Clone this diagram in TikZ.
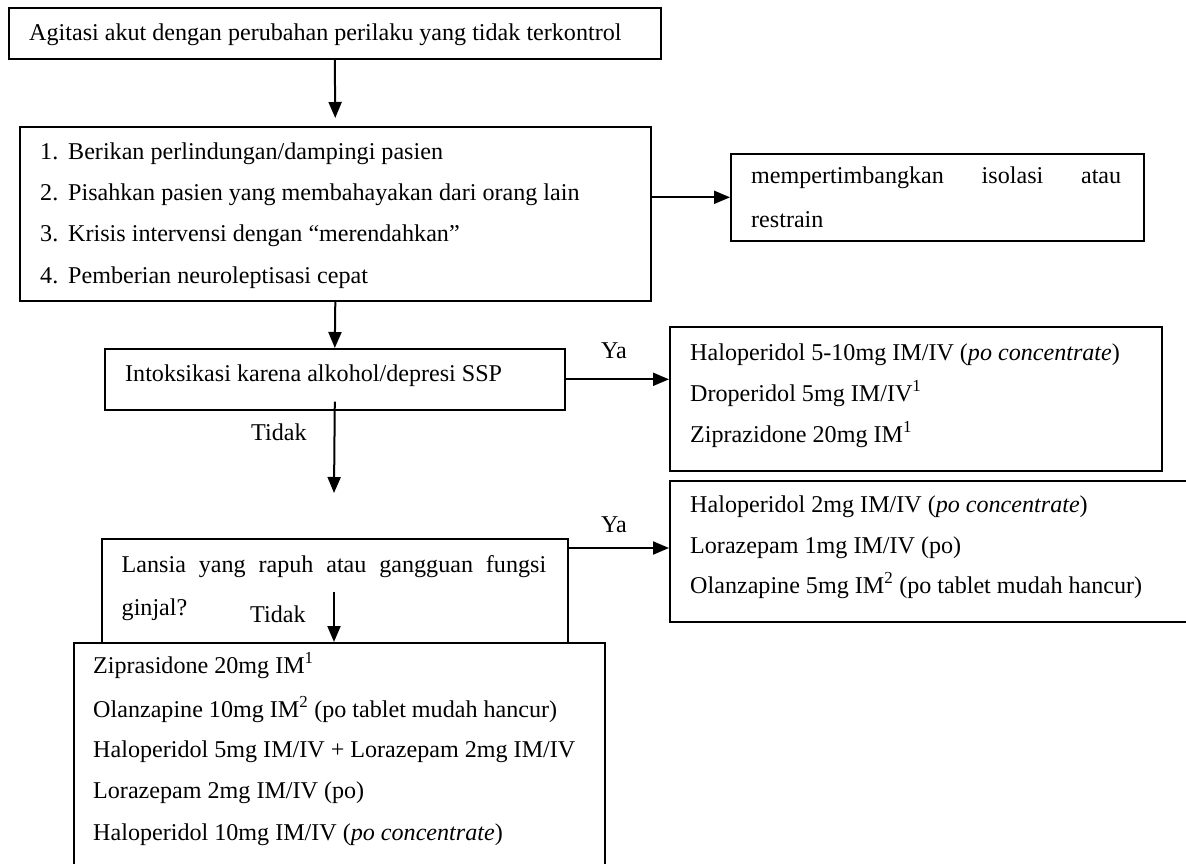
\documentclass[tikz,border=0pt]{standalone}
\usepackage{fontspec}
\setmainfont{Liberation Serif}
\usetikzlibrary{arrows.meta,calc}
\newcommand\figfont{\fontsize{24.1}{28}\selectfont}
\begin{document}
\begin{tikzpicture}[x=1pt,y=-1pt,
  box/.style={draw, line width=1.6pt, inner sep=0pt, anchor=north west},
  txt/.style={anchor=base west, inner sep=0pt, font=\figfont},
  lbl/.style={anchor=base, inner sep=0pt, font=\figfont},
  arr/.style={line width=2pt, -{Triangle[length=16pt,width=13pt]}},
]
\useasboundingbox (0,0) rectangle (1186,863);
\fill[white] (0,0) rectangle (1186,863);
\clip (0,0) rectangle (1186,863);

% boxes
\node[box, minimum width=652pt, minimum height=51pt] (b1) at (8,7) {};
\node[box, minimum width=631pt, minimum height=174pt] (b2) at (19,126) {};
\node[box, minimum width=413pt, minimum height=87pt] (b3) at (730,153) {};
\node[box, minimum width=460pt, minimum height=61pt] (b4) at (104,348) {};
\node[box, minimum width=492pt, minimum height=144pt] (b5) at (669,326) {};
\node[box, minimum width=466pt, minimum height=104pt] (b6) at (101,538) {};
\node[box, minimum width=531pt, minimum height=141pt] (b7) at (669,480) {};
\node[box, minimum width=531pt, minimum height=240pt] (b8) at (73,642) {};

% texts
\node[txt] (t1) at (29,40) {Agitasi akut dengan perubahan perilaku yang tidak terkontrol};

\node[txt] (n1) at (40,159) {1.};
\node[txt] (i1) at (68,159) {Berikan perlindungan/dampingi pasien};
\node[txt] (n2) at (40,200) {2.};
\node[txt] (i2) at (68,200) {Pisahkan pasien yang membahayakan dari orang lain};
\node[txt] (n3) at (40,241) {3.};
\node[txt] (i3) at (68,241) {Krisis intervensi dengan “merendahkan”};
\node[txt] (n4) at (40,283) {4.};
\node[txt] (i4) at (68,283) {Pemberian neuroleptisasi cepat};

\node[txt] (s1) at (751,183) {\makebox[370pt][s]{mempertimbangkan isolasi atau}};
\node[txt] (s2) at (751,227) {restrain};

\node[txt] (q1) at (125,381) {Intoksikasi karena alkohol/depresi SSP};
\node[lbl] (ya1) at (614,358) {Ya};
\node[txt] (td1) at (251,440) {Tidak};

\node[txt] (r1) at (690,360) {Haloperidol 5-10mg IM/IV (\textit{po concentrate})};
\node[txt] (r2) at (690,401) {Droperidol 5mg IM/IV\textsuperscript{1}};
\node[txt] (r3) at (690,442) {Ziprazidone 20mg IM\textsuperscript{1}};

\node[txt] (q2a) at (121.5,572) {\makebox[424.5pt][s]{Lansia yang rapuh atau gangguan fungsi}};
\node[txt] (q2b) at (121.5,615) {ginjal?};
\node[txt] (td2) at (250,622) {Tidak};
\node[lbl] (ya2) at (614,532) {Ya};

\node[txt] (u1) at (690,512) {Haloperidol 2mg IM/IV (\textit{po concentrate})};
\node[txt] (u2) at (690,553) {Lorazepam 1mg IM/IV (po)};
\node[txt] (u3) at (690,593) {Olanzapine 5mg IM\textsuperscript{2} (po tablet mudah hancur)};

\node[txt] (v1) at (93,673) {Ziprasidone 20mg IM\textsuperscript{1}};
\node[txt] (v2) at (93,717) {Olanzapine 10mg IM\textsuperscript{2} (po tablet mudah hancur)};
\node[txt] (v3) at (93,757) {Haloperidol 5mg IM/IV + Lorazepam 2mg IM/IV};
\node[txt] (v4) at (93,798) {Lorazepam 2mg IM/IV (po)};
\node[txt] (v5) at (93,840) {Haloperidol 10mg IM/IV (\textit{po concentrate})};

% connectors
\draw[arr, shorten >=8pt] (b1.south) -- (b2.north);
\draw[arr] (b3.west -| b2.east) -- (b3.west);
\draw[arr] (b2.south) -- (b4.north);
\draw[arr] (b4.east) -- (b4.east -| b5.west);
\coordinate (c1s) at ($(b4.south)+(0,-9)$);
\coordinate (c1e) at (334,493);
\draw[arr] (c1s) -- (c1e);
\coordinate (c2s) at ($(b6.north east)+(0,10)$);
\draw[arr] (c2s) -- (c2s -| b7.west);
\coordinate (c3s) at (334,592);
\draw[arr] (c3s) -- (c3s |- b8.north);
\end{tikzpicture}
\end{document}
